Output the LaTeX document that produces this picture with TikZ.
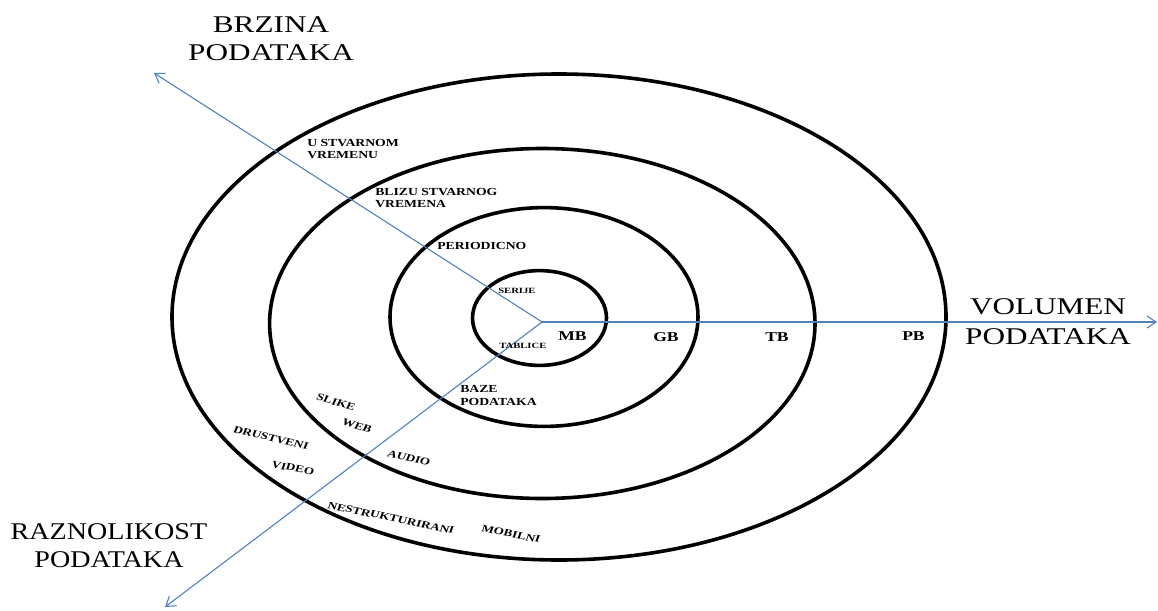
\documentclass[tikz,border=0pt]{standalone}
\usepackage{fontspec}
\setmainfont{Liberation Serif}
\usetikzlibrary{arrows.meta}
\definecolor{axisblue}{HTML}{4F81BD}
\begin{document}
\begin{tikzpicture}[x=1pt,y=-1pt,
  ringline/.style={line width=3.6pt, draw=black},
  axisline/.style={draw=axisblue, line width=1.1pt, -{Straight Barb[length=9pt,width=12pt]}},
  biglab/.style={font=\fontsize{24}{28}\selectfont, align=center, xscale=1.3, transform shape, inner sep=0pt},
  lab/.style={font=\bfseries\fontsize{10.8}{12}\selectfont, align=left, xscale=1.27, transform shape, inner sep=0pt},
  smalllab/.style={font=\bfseries\fontsize{8}{9}\selectfont, xscale=1.33, transform shape, inner sep=0pt},
  unitlab/.style={font=\bfseries\fontsize{13.5}{15}\selectfont, xscale=1.3, transform shape, inner sep=0pt},
  arclab/.style={font=\bfseries\fontsize{10}{12}\selectfont, xscale=1.32, transform shape, inner sep=0pt}
]
\useasboundingbox (0,0) rectangle (1158,610);
% rings
\draw[ringline] (559,317) ellipse [x radius=387pt, y radius=243pt];
\draw[ringline] (542.3,323.5) ellipse [x radius=272.7pt, y radius=175pt];
\draw[ringline] (544,317) ellipse [x radius=154pt, y radius=109.4pt];
\draw[ringline] (539.5,318) ellipse [x radius=67pt, y radius=47.4pt];
% axes
\coordinate (O) at (542,322);
\coordinate (tipV) at (154,73);
\coordinate (tipVol) at (1157,322);
\coordinate (tipR) at (165,607);
\draw[axisline] (O) -- (tipV);
\draw[axisline] (O) -- (tipVol);
\draw[axisline] (O) -- (tipR);
% axis titles
\node[biglab] (brz) at (271,39) {BRZINA\\PODATAKA};
\node[biglab, font=\fontsize{24}{30}\selectfont] (vol) at (1048,322) {VOLUMEN\\PODATAKA};
\node[font=\fontsize{24}{28}\selectfont, align=center, xscale=1.17, transform shape, inner sep=0pt] (raz) at (109,546) {RAZNOLIKOST\\PODATAKA};
% velocity labels
\node[lab, anchor=north west] (usv) at (307,139.5) {U STVARNOM\\VREMENU};
\node[lab, anchor=north west] (blz) at (375,188.5) {BLIZU STVARNOG\\VREMENA};
\node[lab, anchor=west] (per) at (437,246) {PERIODICNO};
\node[smalllab, anchor=west] (ser) at (498,291) {SERIJE};
% variety labels
\node[smalllab, anchor=west] (tab) at (499,346) {TABLICE};
\node[lab, anchor=north west, font=\bfseries\fontsize{10.8}{13}\selectfont] (baz) at (460,385.5) {BAZE\\PODATAKA};
% volume labels
\node[unitlab, anchor=west] (mb) at (558,336) {MB};
\node[unitlab, anchor=west] (gb) at (653,337) {GB};
\node[unitlab, anchor=west] (tb) at (765,337) {TB};
\node[unitlab, anchor=west] (pb) at (902,336) {PB};
% curved labels
\node[arclab, rotate=-20] (sli) at (336,402) {SLIKE};
\node[arclab, rotate=-21] (web) at (357,426) {WEB};
\node[arclab, rotate=-17] (dru) at (271,438) {DRUSTVENI};
\node[arclab, rotate=-13.5] (vid) at (293,468) {VIDEO};
\node[arclab, rotate=-17] (aud) at (409,458) {AUDIO};
\node[arclab, rotate=-15] (nes) at (391,518) {NESTRUKTURIRANI};
\node[arclab, rotate=-14.5] (mob) at (511,534) {MOBILNI};
\end{tikzpicture}
\end{document}
